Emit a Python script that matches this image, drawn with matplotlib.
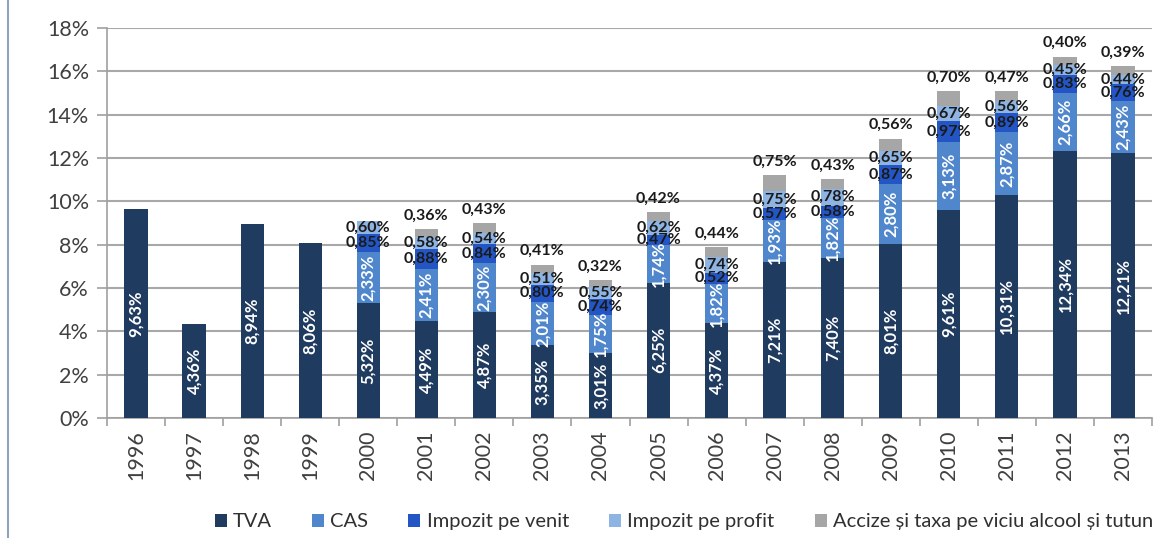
import matplotlib
matplotlib.use("Agg")
import matplotlib.pyplot as plt
from matplotlib.lines import Line2D
import numpy as np

plt.rcParams['font.family'] = ['Lato', 'DejaVu Sans']

years = [str(y) for y in range(1996, 2014)]
tva = [9.63, 4.36, 8.94, 8.06, 5.32, 4.49, 4.87, 3.35, 3.01, 6.25, 4.37, 7.21, 7.40, 8.01, 9.61, 10.31, 12.34, 12.21]
cas = [None, None, None, None, 2.33, 2.41, 2.30, 2.01, 1.75, 1.74, 1.82, 1.93, 1.82, 2.80, 3.13, 2.87, 2.66, 2.43]
venit = [None, None, None, None, 0.85, 0.88, 0.84, 0.80, 0.74, 0.47, 0.52, 0.57, 0.58, 0.87, 0.97, 0.89, 0.83, 0.76]
profit = [None, None, None, None, 0.60, 0.58, 0.54, 0.51, 0.55, 0.62, 0.74, 0.75, 0.78, 0.65, 0.67, 0.56, 0.45, 0.44]
accize = [None, None, None, None, None, 0.36, 0.43, 0.41, 0.32, 0.42, 0.44, 0.75, 0.43, 0.56, 0.70, 0.47, 0.40, 0.39]

series_names = ["TVA", "CAS", "Impozit pe venit", "Impozit pe profit",
                "Accize și taxa pe viciu alcool și tutun"]
series = [tva, cas, venit, profit, accize]
colors = ["#203B60", "#4F86CC", "#2356C4", "#8DB4E2", "#A6A6A6"]
yticks = [0, 2, 4, 6, 8, 10, 12, 14, 16, 18]

def fmt(v):
    return f"{v:.2f}%".replace('.', ',')

fig = plt.figure(figsize=(11.55, 5.38), dpi=100)
ax = fig.add_axes([107/1155, 1 - 418/538, (1152-107)/1155, 390/538])

x = np.arange(len(years))
bottom = np.zeros(len(years))
width = 0.4
for idx, (name, vals, col) in enumerate(zip(series_names, series, colors)):
    v = np.array([0.0 if a is None else a for a in vals])
    ax.bar(x, v, width, bottom=bottom, color=col, label=name, zorder=3)
    for i, a in enumerate(vals):
        if a is None:
            continue
        if idx < 2:
            ax.text(x[i], bottom[i] + a / 2, fmt(a), rotation=90, ha='center', va='center',
                    color='white', fontsize=12, fontweight='bold', zorder=5)
        elif idx < 4:
            ax.text(x[i], bottom[i] + a / 2, fmt(a), ha='center', va='center',
                    color='#1a1a1a', fontsize=11.5, fontweight='bold', zorder=5)
        else:
            ax.text(x[i], bottom[i] + a + 0.62, fmt(a), ha='center', va='center',
                    color='#1a1a1a', fontsize=11.5, fontweight='bold', zorder=5)
    bottom = bottom + v

ax.set_xlim(-0.5, len(years) - 0.5)
ax.set_ylim(0, 18)
ax.set_yticks(yticks)
ax.set_yticklabels([f"{t}%" for t in yticks], fontsize=15.5, color='#404040')
ax.set_xticks(x)
ax.set_xticklabels(years, rotation=90, fontsize=15.5, color='#404040')
ax.set_xticks(np.arange(-0.5, len(years), 1.0), minor=True)
ax.tick_params(axis='x', which='major', length=0, pad=9)
ax.tick_params(axis='x', which='minor', length=6, color='#A0A0A0', width=1.2)
ax.tick_params(axis='y', length=7, color='#A0A0A0', width=1.2, pad=6)
ax.grid(axis='y', color='#A8A8A8', linewidth=1.5, zorder=0)
for s in ['top', 'right']:
    ax.spines[s].set_visible(False)
ax.spines['left'].set_color('#A0A0A0')
ax.spines['left'].set_linewidth(1.2)
ax.spines['bottom'].set_color('#A0A0A0')
ax.spines['bottom'].set_linewidth(1.2)

fig.legend(loc='center', bbox_to_anchor=(0.592, 0.03), ncol=5, frameon=False,
           fontsize=14.5, handlelength=0.6, handleheight=0.6, handletextpad=0.3,
           columnspacing=2.0, labelcolor='#303030')

fig.add_artist(Line2D([8/1155, 8/1155], [0, 1], color='#8FA3BF', linewidth=1.5))

fig.savefig("out.png", dpi=100)
